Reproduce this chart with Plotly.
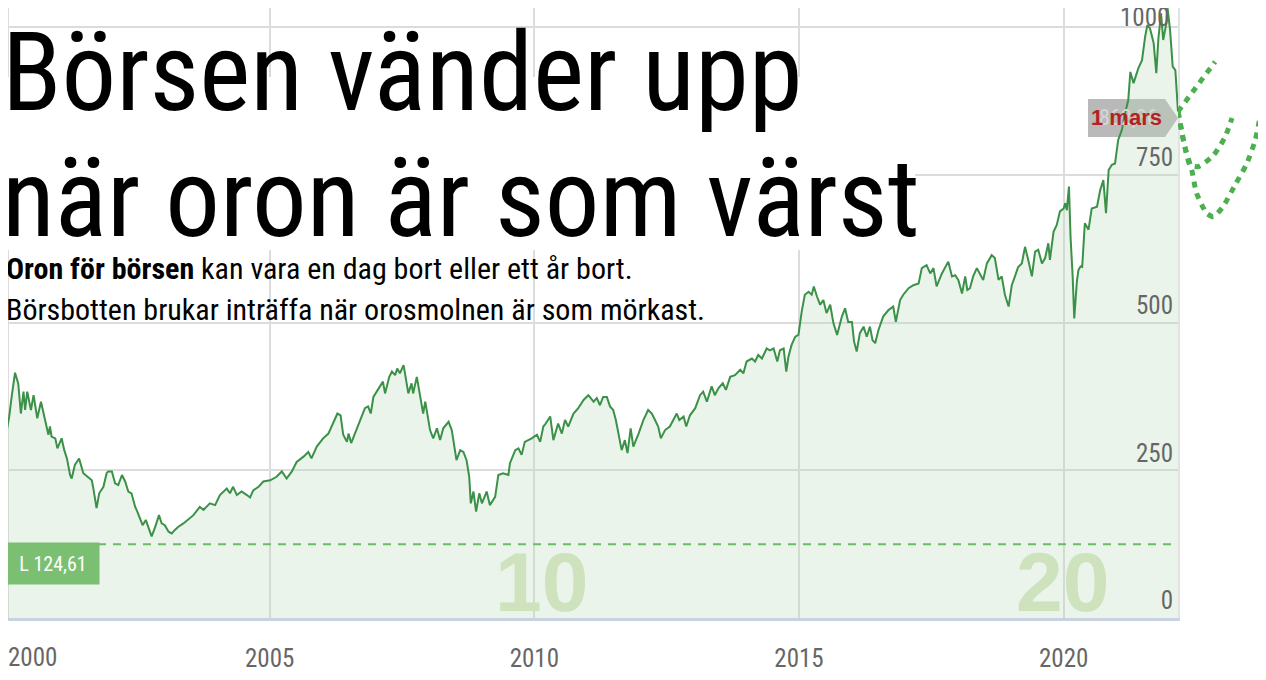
import plotly.graph_objects as go

# ---- data ----
years = [2000.03, 2000.08, 2000.13, 2000.19, 2000.25, 2000.30, 2000.35, 2000.38, 2000.42, 2000.49,
         2000.54, 2000.61, 2000.68, 2000.76, 2000.82, 2000.85, 2000.88, 2000.95, 2000.99, 2001.07,
         2001.12, 2001.17, 2001.23, 2001.26, 2001.32, 2001.40, 2001.48, 2001.56, 2001.64, 2001.67,
         2001.73, 2001.78, 2001.86, 2001.92, 2001.95, 2002.02, 2002.08, 2002.14, 2002.21, 2002.27,
         2002.33, 2002.39, 2002.46, 2002.50, 2002.55, 2002.60, 2002.66, 2002.71, 2002.77, 2002.83,
         2002.91, 2002.96, 2003.02, 2003.09, 2003.15, 2003.21, 2003.27, 2003.37, 2003.46, 2003.56,
         2003.68, 2003.75, 2003.87, 2003.97, 2004.06, 2004.19, 2004.25, 2004.31, 2004.38, 2004.47,
         2004.57, 2004.63, 2004.69, 2004.79, 2004.88, 2005.01, 2005.13, 2005.23, 2005.32, 2005.42,
         2005.51, 2005.64, 2005.73, 2005.79, 2005.89, 2006.01, 2006.11, 2006.20, 2006.28, 2006.34,
         2006.39, 2006.46, 2006.49, 2006.54, 2006.61, 2006.71, 2006.80, 2006.86, 2006.91, 2006.96,
         2007.05, 2007.14, 2007.18, 2007.26, 2007.31, 2007.37, 2007.41, 2007.46, 2007.53, 2007.58,
         2007.62, 2007.68, 2007.71, 2007.78, 2007.84, 2007.90, 2007.94, 2008.03, 2008.09, 2008.16,
         2008.22, 2008.28, 2008.38, 2008.44, 2008.50, 2008.53, 2008.60, 2008.66, 2008.72, 2008.77,
         2008.80, 2008.85, 2008.90, 2008.96, 2009.01, 2009.10, 2009.16, 2009.26, 2009.32, 2009.41,
         2009.51, 2009.54, 2009.64, 2009.70, 2009.76, 2009.82, 2009.95, 2010.05, 2010.11, 2010.17,
         2010.20, 2010.30, 2010.36, 2010.45, 2010.52, 2010.58, 2010.64, 2010.74, 2010.83, 2010.93,
         2011.02, 2011.12, 2011.18, 2011.24, 2011.30, 2011.37, 2011.43, 2011.49, 2011.54, 2011.62,
         2011.65, 2011.71, 2011.76, 2011.82, 2011.87, 2011.97, 2012.06, 2012.15, 2012.22, 2012.28,
         2012.34, 2012.39, 2012.47, 2012.56, 2012.64, 2012.69, 2012.74, 2012.82, 2012.87, 2012.94,
         2013.04, 2013.13, 2013.19, 2013.26, 2013.35, 2013.41, 2013.48, 2013.56, 2013.62, 2013.70,
         2013.79, 2013.89, 2013.95, 2014.01, 2014.11, 2014.17, 2014.23, 2014.30, 2014.39, 2014.45,
         2014.52, 2014.59, 2014.64, 2014.71, 2014.76, 2014.80, 2014.86, 2014.93, 2014.99, 2015.05,
         2015.11, 2015.18, 2015.24, 2015.28, 2015.34, 2015.40, 2015.46, 2015.52, 2015.59, 2015.65,
         2015.72, 2015.81, 2015.87, 2015.93, 2016.00, 2016.04, 2016.09, 2016.15, 2016.22, 2016.28,
         2016.34, 2016.39, 2016.44, 2016.50, 2016.59, 2016.69, 2016.78, 2016.83, 2016.91, 2016.97,
         2017.07, 2017.16, 2017.26, 2017.32, 2017.41, 2017.48, 2017.54, 2017.60, 2017.70, 2017.76,
         2017.82, 2017.89, 2017.95, 2018.01, 2018.08, 2018.14, 2018.18, 2018.23, 2018.29, 2018.36,
         2018.42, 2018.48, 2018.55, 2018.64, 2018.70, 2018.77, 2018.83, 2018.89, 2018.96, 2019.02,
         2019.08, 2019.14, 2019.21, 2019.27, 2019.33, 2019.40, 2019.46, 2019.52, 2019.59, 2019.65,
         2019.71, 2019.74, 2019.81, 2019.87, 2019.93, 2020.00, 2020.03, 2020.06, 2020.10, 2020.13,
         2020.17, 2020.20, 2020.25, 2020.28, 2020.32, 2020.35, 2020.40, 2020.47, 2020.53, 2020.63,
         2020.69, 2020.75, 2020.80, 2020.85, 2020.91, 2020.97, 2021.03, 2021.10, 2021.16, 2021.22,
         2021.26, 2021.32, 2021.41, 2021.48, 2021.54, 2021.58, 2021.63, 2021.70, 2021.75, 2021.79,
         2021.84, 2021.88, 2021.94, 2021.96, 2022.01, 2022.06, 2022.11, 2022.16]
values = [315, 341, 377, 415, 397, 346, 383, 352, 383, 352,
          377, 338, 366, 332, 310, 324, 307, 304, 287, 304,
          284, 270, 242, 236, 259, 270, 245, 239, 233, 219,
          186, 211, 222, 245, 248, 248, 228, 225, 242, 231,
          214, 211, 188, 180, 169, 157, 166, 154, 138, 152,
          174, 160, 157, 146, 143, 149, 154, 160, 166, 174,
          188, 183, 194, 191, 208, 219, 211, 222, 208, 214,
          208, 204, 216, 222, 231, 233, 239, 248, 236, 248,
          264, 273, 281, 270, 290, 304, 312, 329, 346, 343,
          310, 298, 312, 296, 312, 332, 355, 358, 346, 374,
          386, 400, 380, 408, 417, 411, 422, 414, 428, 400,
          380, 397, 380, 408, 380, 346, 366, 318, 304, 321,
          301, 321, 332, 318, 284, 267, 284, 281, 267, 239,
          194, 214, 180, 211, 194, 214, 191, 205, 242, 245,
          242, 262, 284, 287, 276, 298, 304, 310, 298, 324,
          327, 341, 301, 329, 312, 335, 324, 346, 355, 369,
          377, 366, 372, 360, 374, 374, 358, 352, 335, 296,
          284, 301, 279, 321, 290, 312, 335, 352, 346, 335,
          324, 304, 318, 324, 338, 346, 335, 341, 324, 343,
          355, 377, 383, 366, 392, 377, 389, 397, 386, 408,
          411, 420, 414, 434, 439, 434, 445, 439, 456, 453,
          456, 434, 453, 456, 417, 442, 462, 476, 479, 518,
          547, 552, 547, 561, 544, 530, 538, 516, 530, 499,
          479, 510, 524, 501, 501, 468, 451, 482, 493, 476,
          493, 470, 465, 487, 510, 521, 527, 501, 538, 547,
          558, 563, 566, 592, 597, 583, 592, 561, 583, 594,
          603, 578, 580, 572, 549, 578, 555, 558, 578, 592,
          583, 572, 600, 614, 609, 572, 578, 547, 527, 563,
          578, 594, 600, 628, 606, 578, 620, 623, 600, 609,
          634, 606, 654, 665, 688, 693, 702, 690, 730, 645,
          578, 507, 570, 589, 595, 594, 668, 657, 693, 696,
          724, 741, 685, 758, 767, 769, 809, 826, 854, 876,
          924, 905, 930, 944, 984, 1003, 998, 973, 922, 981,
          1023, 978, 1006, 1034, 995, 933, 927, 857]

low_value = 124.61
low_label = "L 124,61"
last_label = "862,36"
date_label = "1 mars"

# scenario sketches after 1 March 2022
scen1_years = [2022.16, 2022.86]
scen1_values = [857, 941]
scen2_years = [2022.16, 2022.29, 2022.39, 2022.55, 2022.83, 2023.05, 2023.18]
scen2_values = [857, 797, 766, 764, 783, 814, 846]
scen3_years = [2022.16, 2022.29, 2022.42, 2022.51, 2022.70, 2022.83, 2023.01, 2023.24, 2023.46, 2023.62, 2023.71]
scen3_values = [857, 797, 758, 719, 685, 679, 696, 733, 769, 809, 848]

x_ticks = [2005, 2010, 2015, 2020]
x_ticktext = ["2005", "2010", "2015", "2020"]
first_year_label = "2000"
y_ticks = [0, 250, 500, 750, 1000]
y_ticktext = ["0", "250", "500", "750", ""]
top_tick_label = "1000"
decade_marks = [(2010.13, "10"), (2019.97, "20")]

title_lines = ["Börsen vänder upp", "när oron är som värst"]
sub_lines = ["<b>Oron för börsen</b> kan vara en dag bort eller ett år bort.",
             "Börsbotten brukar inträffa när orosmolnen är som mörkast."]

# ---- geometry (page body has an 8px margin) ----
COND = "Roboto Condensed, Liberation Sans Narrow, DejaVu Sans Condensed, sans-serif"
OFF = 8
W, H = 1266 - OFF, 680 - OFF
PLOT_BOTTOM = 618          # screen y of value 0
PLOT_H = PLOT_BOTTOM - OFF
MB = H - PLOT_H
px_per_unit = 0.591
Y_TOP = PLOT_H / px_per_unit
X_START, X_END = 2000.057, 2022.16
MAIN_PX = 1178 - OFF
dom = MAIN_PX / W
px_per_year = MAIN_PX / (X_END - X_START)
x2_end = X_END + (W - MAIN_PX) / px_per_year


def ppx(sx):  # screen x -> paper x
    return (sx - OFF) / W


def ppy(sy):  # screen y -> paper y
    return (PLOT_BOTTOM - sy) / PLOT_H


def sx2d(sx):  # screen x -> x data position
    return X_START + (sx - OFF) / px_per_year


def sy2d(sy):  # screen y -> y data position
    return (PLOT_BOTTOM - sy) / px_per_unit


fig = go.Figure()

fig.add_trace(go.Scatter(
    x=years, y=values, mode="lines",
    line=dict(color="#3b9147", width=2),
    fill="tozeroy", fillcolor="rgba(190,220,190,0.30)",
    hoverinfo="skip", showlegend=False))

dot = dict(color="#4caf50", width=5, dash="6px,6px")
for xs, ys in [(scen1_years, scen1_values), (scen2_years, scen2_values), (scen3_years, scen3_values)]:
    fig.add_trace(go.Scatter(x=xs, y=ys, mode="lines", line=dict(**dot, shape="spline", smoothing=0.6),
                             xaxis="x2", yaxis="y2", hoverinfo="skip", showlegend=False))

tag = [(1088, 99), (1165, 99), (1178, 118), (1165, 137), (1088, 137)]
tag_path = "M " + " L ".join(f"{sx2d(a)},{sy2d(b)}" for a, b in tag) + " Z"

shapes = [
    # white backing behind the headline
    dict(type="rect", xref="x", yref="y", x0=X_START, x1=sx2d(915), y0=sy2d(250), y1=sy2d(77),
         fillcolor="white", line=dict(width=0), layer="between"),
    # left border of the plot
    dict(type="line", xref="x", yref="y", x0=X_START, x1=X_START, y0=0, y1=sy2d(250),
         line=dict(color="#dcdcdc", width=2), layer="between"),
    dict(type="line", xref="x", yref="y", x0=X_START, x1=X_START, y0=sy2d(77), y1=Y_TOP,
         line=dict(color="#dcdcdc", width=2), layer="between"),
    dict(type="line", xref="x", yref="y", x0=X_START, x1=X_END, y0=low_value, y1=low_value,
         line=dict(color="#6cbb67", width=2, dash="8px,7px"), layer="above"),
    dict(type="path", xref="x", yref="y", layer="between", path=tag_path,
         fillcolor="#b9b9b9", line=dict(width=0)),
]

annotations = []
for xv, txt in decade_marks:
    annotations.append(dict(x=xv, y=0, xref="x", yref="y", text=txt, showarrow=False,
                            xanchor="center", yanchor="bottom", yshift=-13,
                            font=dict(family="Liberation Sans, Arial, sans-serif", size=84,
                                      color="#cde2bd", weight="bold")))
annotations.append(dict(x=X_START, y=low_value, xref="x", yref="y", text=low_label, showarrow=False,
                        xanchor="left", yanchor="top", xshift=-2, yshift=2,
                        bgcolor="#7bbf73", borderpad=8, width=76, height=25,
                        font=dict(family=COND, size=20, color="white")))
annotations.append(dict(x=X_START, y=ppy(657), xref="x", yref="paper", text=first_year_label,
                        showarrow=False, xanchor="left", yanchor="middle", xshift=-2,
                        font=dict(family=COND, size=25, color="#666666")))
annotations.append(dict(x=ppx(1171), y=ppy(34), xref="paper", yref="paper", text=top_tick_label,
                        showarrow=False, xanchor="right", yanchor="bottom",
                        font=dict(family=COND, size=25, color="#666666")))
annotations.append(dict(x=ppx(1128), y=ppy(118), xref="paper", yref="paper", text=last_label,
                        showarrow=False, xanchor="center", yanchor="middle",
                        font=dict(family=COND, size=22, color="#d6d6d6")))
annotations.append(dict(x=ppx(1126), y=ppy(118), xref="paper", yref="paper", text=date_label,
                        showarrow=False, xanchor="center", yanchor="middle",
                        font=dict(family="Liberation Sans, Arial, sans-serif", size=22,
                                  color="#b3221f", weight="bold")))
for line, cy in zip(title_lines, [73, 199]):
    annotations.append(dict(x=0, y=ppy(cy), xref="paper", yref="paper", text=line,
                            showarrow=False, xanchor="left", yanchor="middle", xshift=-8,
                            font=dict(family=COND, size=109, color="black")))
for line, cy in zip(sub_lines, [268, 309]):
    annotations.append(dict(x=0, y=ppy(cy), xref="paper", yref="paper", text=line,
                            showarrow=False, xanchor="left", yanchor="middle", xshift=-4,
                            font=dict(family=COND, size=30, color="black")))

fig.update_layout(
    width=W, height=H,
    margin=dict(l=0, r=0, t=0, b=MB),
    paper_bgcolor="white", plot_bgcolor="white",
    showlegend=False,
    xaxis=dict(domain=[0, dom], range=[X_START, X_END], tickmode="array",
               tickvals=x_ticks, ticktext=x_ticktext, showgrid=True,
               gridcolor="#dcdcdc", gridwidth=2, zeroline=False,
               showline=True, linecolor="#c8d2e0", linewidth=3, ticks="",
               ticklabelstandoff=16,
               tickfont=dict(family=COND, size=25, color="#666666")),
    yaxis=dict(range=[0, Y_TOP], tickmode="array", tickvals=y_ticks, ticktext=y_ticktext,
               side="right", ticklabelposition="inside top", ticklabelstandoff=6,
               showgrid=True, gridcolor="#dcdcdc", gridwidth=2, zeroline=False,
               showline=True, linecolor="#e2e2e2", linewidth=2, ticks="",
               tickfont=dict(family=COND, size=25, color="#666666")),
    xaxis2=dict(domain=[dom, 1], range=[X_END, x2_end], visible=False, anchor="y2"),
    yaxis2=dict(range=[0, Y_TOP], visible=False, anchor="x2"),
    shapes=shapes,
    annotations=annotations,
)

fig.write_html("out.html")
